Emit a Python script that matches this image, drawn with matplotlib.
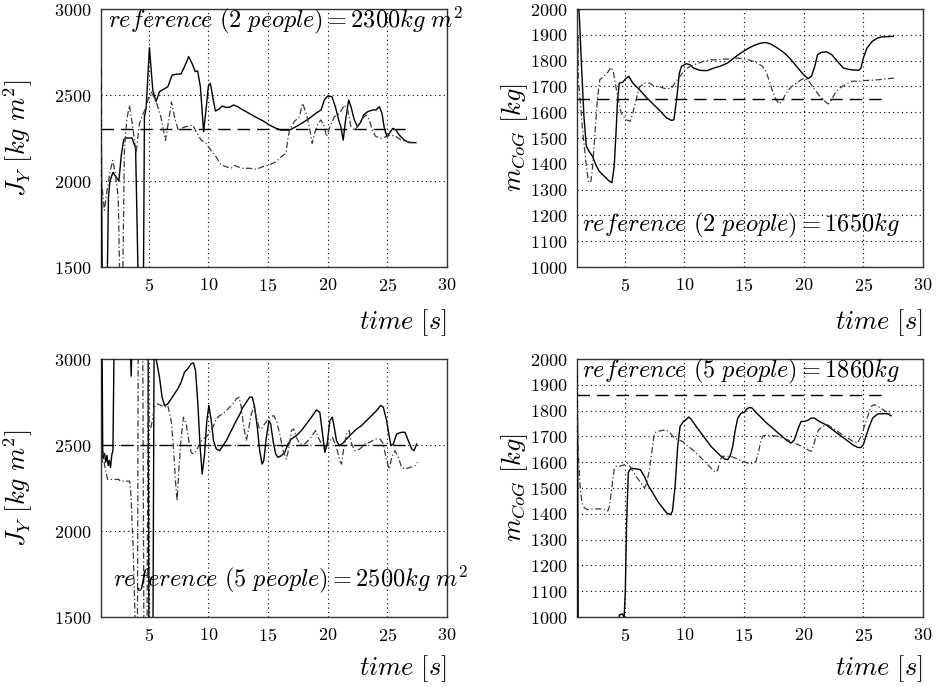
import matplotlib
matplotlib.use("Agg")
import matplotlib.pyplot as plt

plt.rcParams.update({
    "font.family": "serif",
    "font.serif": ["cmr10", "DejaVu Serif"],
    "mathtext.fontset": "cm",
    "axes.formatter.use_mathtext": True,
    "font.size": 13,
})

# ---- J_Y estimate, 2 people ----
jy2_t_solid = [1.0, 1.05, 1.12, 1.5, 1.62, 1.75, 2.0, 2.3, 2.5, 2.7, 2.9, 3.1, 3.6, 3.9, 4.15,
               4.55, 4.64, 4.78, 5.06, 5.34, 5.61, 5.9, 6.23, 6.6, 6.96, 7.43, 7.7, 8.0, 8.35, 8.63,
               8.9, 9.1, 9.33, 9.6, 9.8, 10.0, 10.17, 10.36, 10.59, 10.87, 11.15, 11.48, 11.76,
               12.1, 12.46, 12.9, 13.43, 14.0, 14.55, 15.1, 15.67, 16.1, 16.8, 17.35, 17.9, 18.46,
               19.0, 19.44, 19.72, 20.0, 20.36, 20.64, 20.92, 21.1, 21.3, 21.48, 21.76, 21.95,
               22.23, 22.5, 22.8, 23.0, 23.35, 23.77, 24.05, 24.33, 24.55, 24.75, 24.97, 25.17,
               25.45, 25.73, 26.0, 26.42, 26.84, 27.4]
jy2_solid = [2650, 1900, 1300, 1300, 1900, 2000, 2050, 2020, 2000, 2150, 2240, 2250, 2250, 2190, 1300,
             1300, 2374, 2420, 2775, 2529, 2461, 2519, 2533, 2548, 2616, 2622, 2622, 2665, 2723, 2684,
             2636, 2640, 2548, 2287, 2413, 2552, 2568, 2490, 2407, 2417, 2436, 2428, 2428,
             2442, 2432, 2413, 2393, 2370, 2351, 2326, 2306, 2296, 2296, 2316, 2339, 2364,
             2393, 2413, 2471, 2494, 2490, 2432, 2355, 2316, 2238, 2345, 2471, 2432,
             2355, 2316, 2345, 2384, 2403, 2413, 2413, 2432, 2393, 2306, 2258, 2277,
             2306, 2296, 2267, 2238, 2223, 2223]
jy2_t_dashdot = [1.0, 1.05, 1.28, 1.56, 1.75, 1.98, 2.2, 2.45, 2.6, 2.8, 2.96, 3.16, 3.38, 3.66,
                 3.94, 4.22, 4.5, 4.78, 5.0, 5.2, 5.6, 6.0, 6.4, 6.7, 6.9, 7.2, 7.5, 7.7, 8.13,
                 8.69, 8.97, 9.39, 9.8, 10.2, 10.64, 11.06, 11.48, 11.9, 12.2, 12.46, 12.88, 13.43,
                 14.0, 14.55, 15.1, 15.67, 16.1, 16.5, 16.65, 16.8, 17.2, 17.63, 17.9, 18.2, 18.46,
                 18.7, 18.9, 19.2, 19.44, 19.72, 19.9, 20.2, 20.56, 21.0, 21.4, 21.68, 21.95, 22.23,
                 22.5, 22.8, 23.2, 23.49, 23.77, 24.05, 24.47, 24.9, 25.3, 25.73, 26.14, 26.56, 27.26]
jy2_dashdot = [2680, 2000, 1830, 1970, 2050, 2120, 2045, 1900, 1300, 1300, 2180, 2355, 2440, 2316,
               2161, 2335, 2384, 2432, 2490, 2520, 2465, 2380, 2236, 2361, 2460, 2360, 2290, 2306, 2316,
               2326, 2287, 2238, 2219, 2180, 2141, 2093, 2083, 2074, 2090, 2083, 2074, 2074,
               2068, 2083, 2093, 2112, 2141, 2161, 2238, 2296, 2345, 2374, 2452, 2393, 2316,
               2219, 2277, 2335, 2355, 2316, 2258, 2316, 2374, 2393, 2442, 2413, 2316, 2296,
               2316, 2355, 2384, 2355, 2287, 2258, 2248, 2258, 2267, 2258, 2238, 2229, 2223]
jy2_ref = 2300

# ---- m_CoG estimate, 2 people ----
m2_t_solid = [1.0, 1.16, 1.21, 1.38, 1.58, 1.78, 2.0, 2.29, 2.57, 2.85, 3.28, 3.7, 3.93, 4.12, 4.27,
              4.4, 4.55, 4.83, 5.11, 5.34, 5.68, 6.24, 6.8, 7.37, 7.94, 8.5, 8.93, 9.12, 9.35, 9.58,
              9.77, 10.14, 10.48, 10.76, 11.33, 11.9, 12.46, 13.0, 13.6, 14.15, 14.72, 15.3, 15.85,
              16.4, 16.84, 17.26, 17.82, 18.4, 18.95, 19.52, 20.08, 20.37, 20.65, 20.93, 21.16,
              21.5, 21.92, 22.35, 22.77, 23.33, 23.9, 24.6, 24.8, 25.0, 25.3, 25.73, 26.16, 26.58, 27.5]
m2_solid = [2050, 2000, 1958, 1778, 1584, 1468, 1449, 1430, 1397, 1372, 1352, 1333, 1327, 1391, 1520,
            1649, 1713, 1716, 1732, 1739, 1713, 1687, 1658, 1632, 1606, 1578, 1568, 1571, 1649, 1752,
            1778, 1788, 1784, 1771, 1762, 1761, 1771, 1778, 1790, 1810, 1829, 1846, 1859,
            1868, 1870, 1864, 1848, 1829, 1803, 1771, 1741, 1730, 1739, 1778, 1823,
            1832, 1834, 1823, 1800, 1771, 1765, 1762, 1771, 1810, 1848, 1874, 1887, 1892, 1894]
m2_t_dashdot = [1.0, 1.04, 1.08, 1.12, 1.22, 1.44, 1.72, 1.95, 2.15, 2.29, 2.51, 2.71, 2.91, 3.28,
                3.64, 3.84, 4.04, 4.21, 4.4, 4.69, 5.11, 5.45, 5.68, 5.96, 6.24, 6.67, 7.09, 7.5,
                7.94, 8.5, 8.93, 9.2, 9.63, 10.06, 10.48, 11.05, 11.6, 12.18, 12.74, 13.3, 13.87,
                14.44, 15.0, 15.57, 16.13, 16.55, 16.84, 17.12, 17.4, 17.68, 17.97, 18.25, 18.53,
                18.95, 19.38, 19.8, 20.08, 20.5, 20.93, 21.35, 21.78, 22.06, 22.35, 22.63, 23.05,
                23.48, 24.04, 24.6, 25.17, 25.73, 26.3, 27.0, 27.57]
m2_dashdot = [1950, 1780, 1900, 1720, 1674, 1546, 1417, 1333, 1327, 1378, 1520, 1649, 1726, 1741,
              1758, 1774, 1758, 1713, 1662, 1597, 1571, 1565, 1597, 1649, 1698, 1713, 1713, 1700,
              1698, 1690, 1694, 1713, 1739, 1765, 1778, 1788, 1797, 1803, 1803, 1806, 1806,
              1810, 1806, 1801, 1790, 1778, 1758, 1720, 1681, 1649, 1632, 1649, 1674,
              1698, 1713, 1726, 1732, 1716, 1687, 1662, 1642, 1632, 1649, 1674, 1694,
              1707, 1720, 1720, 1723, 1724, 1726, 1730, 1732]
m2_ref = 1650

# ---- J_Y estimate, 5 people ----
jy5_t_solid = [1.0, 1.1, 1.15, 1.2, 1.3, 1.4, 1.5, 1.6, 1.7, 1.8, 1.9, 2.0, 2.1, 3.45, 3.53, 3.6,
               4.95, 5.02, 5.35, 5.45, 5.62, 5.9, 6.12, 6.32, 6.6, 6.88, 7.16, 7.44, 7.72, 8.0, 8.28,
               8.56, 8.75, 8.92, 9.12, 9.31, 9.48, 9.68, 9.87, 10.04, 10.24, 10.43, 10.66, 10.94,
               11.22, 11.5, 11.78, 12.06, 12.34, 12.62, 12.9, 13.18, 13.46, 13.68, 13.88, 14.1, 14.3,
               14.5, 14.64, 14.86, 15.08, 15.22, 15.42, 15.64, 15.84, 16.12, 16.4, 16.68, 16.96,
               17.38, 17.8, 18.22, 18.64, 19.06, 19.34, 19.57, 19.76, 19.96, 20.18, 20.38, 20.55,
               20.74, 20.97, 21.25, 21.58, 21.86, 22.14, 22.42, 22.84, 23.26, 23.68, 24.1, 24.44,
               24.66, 24.94, 25.17, 25.3, 25.5, 25.78, 26.2, 26.48, 26.76, 27.04, 27.24, 27.46]
jy5_solid = [3050, 2980, 2420, 2440, 2450, 2400, 2440, 2380, 2410, 2370, 2440, 2470, 3100, 3100, 2900,
             3100, 3100, 1300, 1300, 3100, 3000, 2895, 2778, 2730, 2739, 2768, 2798, 2827, 2866, 2924,
             2944, 2973, 2977, 2934, 2739, 2486, 2331, 2447, 2642, 2730, 2642, 2525, 2477, 2467,
             2496, 2525, 2564, 2603, 2642, 2677, 2720, 2749, 2778, 2778, 2720, 2603, 2467,
             2389, 2408, 2545, 2642, 2623, 2525, 2447, 2428, 2438, 2457, 2506, 2535,
             2555, 2584, 2623, 2662, 2704, 2690, 2564, 2457, 2506, 2642, 2662, 2603,
             2525, 2496, 2509, 2535, 2555, 2574, 2593, 2613, 2642, 2671, 2700, 2730,
             2720, 2642, 2545, 2496, 2506, 2564, 2574, 2574, 2525, 2477, 2467, 2506]
jy5_t_dashdot = [1.0, 1.1, 1.2, 1.3, 1.45, 1.55, 2.5, 2.6, 3.4, 3.5, 3.7, 3.85, 3.95, 4.05, 4.12,
                 4.5, 4.6, 4.85, 4.95, 5.05, 5.2, 5.48, 5.76, 6.04, 6.32, 6.6, 6.88, 7.07, 7.24,
                 7.38, 7.52, 7.72, 7.91, 8.14, 8.36, 8.56, 8.75, 8.98, 9.26, 9.54, 9.82, 10.1,
                 10.38, 10.66, 10.94, 11.22, 11.5, 11.78, 12.06, 12.34, 12.56, 12.76, 12.96, 13.18,
                 13.4, 13.6, 13.82, 14.02, 14.24, 14.44, 14.72, 15.14, 15.48, 15.7, 15.98, 16.26,
                 16.54, 16.76, 16.96, 17.16, 17.38, 17.66, 18.08, 18.5, 18.78, 19.0, 19.2, 19.48,
                 19.76, 20.04, 20.4, 20.74, 21.02, 21.16, 21.36, 21.58, 21.8, 22.0, 22.28, 22.7,
                 23.12, 23.54, 23.96, 24.38, 24.66, 24.94, 25.17, 25.36, 25.64, 25.92, 26.2, 26.48,
                 26.9, 27.32, 27.52]
jy5_dashdot = [2500, 2400, 2460, 2380, 2330, 2300, 2300, 2290, 2290, 2220, 1900, 1500, 1300, 1300, 3100,
               3100, 1300, 1300, 2850, 2600, 2603, 2720, 2739, 2730, 2720, 2730, 2642, 2486, 2292,
               2175, 2350, 2545, 2662, 2623, 2525, 2457, 2447, 2467, 2506, 2535, 2545, 2574,
               2603, 2652, 2671, 2681, 2700, 2720, 2739, 2768, 2778, 2720, 2603, 2525,
               2603, 2681, 2720, 2662, 2603, 2593, 2623, 2662, 2671, 2642, 2564, 2467,
               2418, 2486, 2584, 2593, 2545, 2506, 2506, 2535, 2564, 2584, 2545, 2506,
               2486, 2506, 2545, 2486, 2408, 2389, 2486, 2564, 2584, 2506, 2467, 2477,
               2506, 2516, 2535, 2535, 2506, 2408, 2360, 2428, 2467, 2428, 2370, 2360,
               2370, 2379, 2399]
jy5_ref = 2500

# ---- m_CoG estimate, 5 people ----
m5_t_solid = [1.0, 1.05, 1.1, 4.45, 4.55, 4.8, 4.95, 5.05, 5.15, 5.3, 5.53, 5.95, 6.31, 6.65, 6.93,
              7.35, 7.77, 8.18, 8.52, 8.83, 9.0, 9.22, 9.44, 9.64, 9.92, 10.14, 10.36, 10.56, 10.98,
              11.4, 11.82, 12.23, 12.65, 13.07, 13.4, 13.63, 13.83, 14.05, 14.27, 14.47, 14.75,
              15.03, 15.22, 15.45, 15.67, 16.0, 16.42, 16.84, 17.4, 17.96, 18.52, 18.94, 19.22,
              19.5, 19.78, 20.06, 20.34, 20.62, 20.9, 21.3, 21.87, 22.43, 22.99, 23.55, 24.1,
              24.53, 24.8, 25.0, 25.22, 25.5, 25.78, 26.2, 26.62, 27.04, 27.32]
m5_solid = [1960, 1700, 950, 950, 1008, 1012, 1000, 1100, 1350, 1560, 1577, 1574, 1571, 1545, 1513,
            1481, 1448, 1423, 1403, 1397, 1410, 1506, 1661, 1739, 1758, 1765, 1775, 1767, 1739,
            1713, 1687, 1661, 1642, 1623, 1612, 1610, 1623, 1661, 1726, 1771, 1790,
            1793, 1806, 1812, 1810, 1793, 1774, 1754, 1732, 1709, 1687, 1674, 1687,
            1726, 1758, 1758, 1762, 1771, 1771, 1758, 1745, 1726, 1706, 1687, 1668,
            1657, 1657, 1668, 1700, 1739, 1771, 1787, 1788, 1788, 1780]
m5_t_dashdot = [1.0, 1.06, 1.15, 1.26, 1.42, 1.62, 1.9, 2.32, 2.88, 3.3, 3.58, 3.72, 3.94, 4.13,
                4.33, 4.55, 4.97, 5.25, 5.53, 5.95, 6.37, 6.65, 6.84, 7.07, 7.29, 7.49, 7.71, 8.04,
                8.41, 8.69, 9.16, 9.86, 10.14, 10.7, 11.26, 11.82, 12.37, 12.6, 12.8, 13.0, 13.2,
                13.5, 13.77, 14.05, 14.47, 14.89, 15.3, 15.73, 16.0, 16.23, 16.42, 16.62, 16.98,
                17.4, 17.82, 18.24, 18.66, 19.08, 19.5, 19.92, 20.34, 20.62, 20.8, 21.03, 21.26,
                21.6, 22.0, 22.43, 22.85, 23.27, 23.69, 24.1, 24.53, 24.8, 25.08, 25.36, 25.64,
                25.92, 26.2, 26.48, 26.76, 27.04, 27.32]
m5_dashdot = [1958, 1700, 1597, 1506, 1442, 1423, 1416, 1419, 1419, 1416, 1410, 1429, 1506, 1577,
              1586, 1584, 1590, 1597, 1577, 1545, 1519, 1500, 1519, 1571, 1648, 1713, 1719, 1722,
              1726, 1719, 1694, 1680, 1668, 1648, 1623, 1597, 1571, 1561, 1571, 1610, 1623,
              1623, 1623, 1620, 1612, 1603, 1597, 1594, 1603, 1642, 1687, 1703, 1704,
              1703, 1700, 1694, 1687, 1677, 1668, 1661, 1648, 1642, 1661, 1700, 1726,
              1739, 1745, 1732, 1719, 1706, 1694, 1681, 1674, 1700, 1739, 1777, 1816,
              1823, 1816, 1810, 1800, 1793, 1784]
m5_ref = 1860

ref_t = [1.0, 27.0]
x_ticks = [5, 10, 15, 20, 25, 30]

fig = plt.figure(figsize=(9.37, 6.87), dpi=100)
W, H = 937.0, 687.0


def make_axes(left_px, top_px):
    return fig.add_axes([left_px / W, 1 - (top_px + 258) / H, 346 / W, 258 / H])


panels = [
    (make_axes(101, 9), jy2_t_solid, jy2_solid, jy2_t_dashdot, jy2_dashdot, jy2_ref,
     (1500, 3000), [1500, 2000, 2500, 3000], r"$J_Y\ [kg\ m^2]$",
     r"$reference\ (2\ people) = 2300kg\ m^2$", (0.02, 0.955), -0.19, 10),
    (make_axes(577, 9), m2_t_solid, m2_solid, m2_t_dashdot, m2_dashdot, m2_ref,
     (1000, 2000), list(range(1000, 2001, 100)), r"$m_{CoG}\ [kg]$",
     r"$reference\ (2\ people) = 1650kg$", (0.015, 0.16), -0.135, 10),
    (make_axes(101, 359), jy5_t_solid, jy5_solid, jy5_t_dashdot, jy5_dashdot, jy5_ref,
     (1500, 3000), [1500, 2000, 2500, 3000], r"$J_Y\ [kg\ m^2]$",
     r"$reference\ (5\ people) = 2500kg\ m^2$", (0.035, 0.145), -0.19, 7),
    (make_axes(577, 359), m5_t_solid, m5_solid, m5_t_dashdot, m5_dashdot, m5_ref,
     (1000, 2000), list(range(1000, 2001, 100)), r"$m_{CoG}\ [kg]$",
     r"$reference\ (5\ people) = 1860kg$", (0.015, 0.95), -0.135, 7),
]

for (ax, ts, ys, td, yd, ref, ylim, yticks, ylabel, note, note_pos, ylab_x, xpad) in panels:
    ax.plot(ts, ys, color="black", lw=1.0, zorder=3)
    ax.plot(td, yd, color="#3a3a3a", lw=0.9, linestyle=(0, (5, 2, 1, 2)), zorder=3)
    ax.plot(ref_t, [ref, ref], color="black", lw=1.0, linestyle=(0, (9, 5)), zorder=3)

    ax.set_xlim(1, 30)
    ax.set_ylim(*ylim)
    ax.set_xticks(x_ticks)
    ax.set_yticks(yticks)
    ax.grid(True, color="black", lw=0.8, linestyle=(0, (1, 3)))
    ax.tick_params(length=0, labelsize=13, pad=7)
    for s in ax.spines.values():
        s.set_color("#333333")
        s.set_linewidth(1.0)

    ax.set_ylabel(ylabel, fontsize=19)
    ax.yaxis.set_label_coords(ylab_x, 0.5)
    ax.set_xlabel(r"$time\ [s]$", fontsize=19, loc="right", labelpad=xpad)

    ax.text(note_pos[0], note_pos[1], note, transform=ax.transAxes, fontsize=17.5,
            ha="left", va="center", clip_on=False, zorder=5)

fig.savefig("out.png", dpi=100)
